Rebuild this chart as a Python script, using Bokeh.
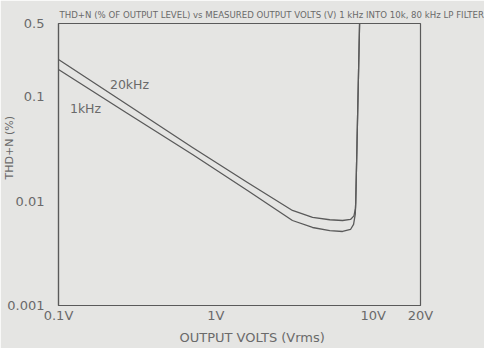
import math
from bokeh.plotting import figure
from bokeh.models import FixedTicker, Label, Title
from bokeh.embed import file_html
from bokeh.resources import INLINE

# --- data ---
volts_20k = [0.1, 0.267, 0.711, 1.59, 3.07, 4.12, 5.3, 6.39, 7.18, 7.55, 7.72, 7.75, 7.90, 8.05, 8.20]
thd_20k = [0.226, 0.0858, 0.0325, 0.01503, 0.00812, 0.00696, 0.00662, 0.00651, 0.00666, 0.0072, 0.0085, 0.00968, 0.0363, 0.136, 0.5]
volts_1k = [0.1, 0.267, 0.711, 1.59, 3.07, 4.12, 5.3, 6.39, 7.18, 7.51, 7.70, 7.75, 7.90, 8.05, 8.20]
thd_1k = [0.1815, 0.0708, 0.0279, 0.01262, 0.00651, 0.00558, 0.0052, 0.00511, 0.00534, 0.00597, 0.0075, 0.00968, 0.0363, 0.136, 0.5]

x_ticks = [0.1, 1, 10, 20]
x_tick_labels = ["0.1V", "1V", "10V", "20V"]
y_ticks = [0.001, 0.01, 0.1, 0.5]
y_tick_labels = ["0.001", "0.01", "0.1", "0.5"]

title_text = "THD+N (% OF OUTPUT LEVEL) vs MEASURED OUTPUT VOLTS (V)  1 kHz  INTO 10k, 80 kHz LP FILTER"
x_label = "OUTPUT VOLTS (Vrms)"
y_label = "THD+N (%)"
series_labels = ["20kHz", "1kHz"]

BG = "#e5e5e3"
INK = "#5a5a5a"
TXT = "#6a6a6a"
FONT = "DejaVu Sans"

p = figure(width=484, height=348, x_axis_type="log", y_axis_type="log",
           x_range=(0.1, 20), y_range=(0.001, 0.5),
           output_backend="svg", toolbar_location=None,
           min_border_left=58, min_border_right=64, min_border_top=23, min_border_bottom=43)
p.background_fill_color = BG
p.border_fill_color = BG
p.outline_line_color = INK
p.outline_line_width = 1.2
p.grid.visible = False

for ax in (p.xaxis, p.yaxis):
    ax.major_tick_line_color = None
    ax.minor_tick_line_color = None
    ax.axis_line_color = INK
    ax.axis_line_width = 1.2
    ax.major_label_text_font = FONT
    ax.major_label_text_font_size = "13px"
    ax.major_label_text_color = TXT

p.xaxis.ticker = FixedTicker(ticks=x_ticks)
p.xaxis.major_label_overrides = {t: l for t, l in zip(x_ticks, x_tick_labels)}
p.yaxis.ticker = FixedTicker(ticks=y_ticks)
p.yaxis.major_label_overrides = {t: l for t, l in zip(y_ticks, y_tick_labels)}
p.xaxis.major_label_standoff = -4
p.yaxis.major_label_standoff = 8

p.line(volts_20k, thd_20k, line_color=INK, line_width=1.3, line_join="round")
p.line(volts_1k, thd_1k, line_color=INK, line_width=1.3, line_join="round")

def vx(px):
    return 10 ** (-1 + (px - 66) / 157.3)

def ty(py):
    return 10 ** (math.log10(0.5) - (py - 31) / 104.5)

p.add_layout(Title(text=title_text, align="left", offset=1, standoff=8,
                   text_font=FONT, text_font_size="8.6px", text_color=TXT,
                   text_font_style="normal"), "above")
p.add_layout(Title(text=x_label, align="left", offset=121, standoff=4,
                   text_font=FONT, text_font_size="13px", text_color=TXT,
                   text_font_style="normal"), "below")
p.add_layout(Title(text=y_label, align="left", offset=126, standoff=-22,
                   text_font=FONT, text_font_size="11px", text_color=TXT,
                   text_font_style="normal"), "left")

p.add_layout(Label(x=vx(137), y=ty(92), text=series_labels[0], text_font=FONT,
                   text_font_size="12.5px", text_color=TXT, text_align="center",
                   text_baseline="middle"))
p.add_layout(Label(x=vx(93), y=ty(116), text=series_labels[1], text_font=FONT,
                   text_font_size="12.5px", text_color=TXT, text_align="center",
                   text_baseline="middle"))

open("out.html", "w").write(file_html(p, INLINE))
